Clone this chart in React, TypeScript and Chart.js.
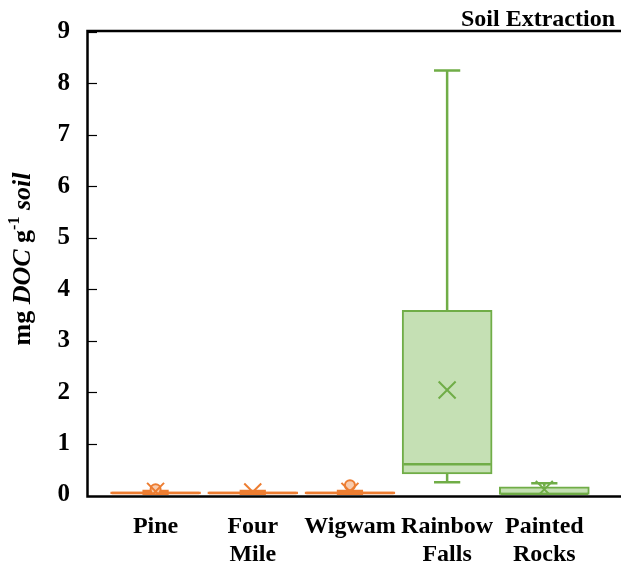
import React, { useEffect, useRef } from "react";
import { Chart, registerables } from "chart.js";

Chart.register(...registerables);

const categories: string[][] = [["Pine"], ["Four", "Mile"], ["Wigwam"], ["Rainbow", "Falls"], ["Painted", "Rocks"]];
const mins = [0.0, 0.0, 0.0, 0.25, 0.0];
const q1s = [0.02, 0.02, 0.02, 0.41, 0.01];
const medians = [0.04, 0.04, 0.04, 0.6, 0.02];
const q3s = [0.06, 0.06, 0.06, 3.59, 0.16];
const maxs = [0.08, 0.08, 0.08, 8.25, 0.23];
const means = [0.07, 0.06, 0.07, 2.04, 0.11];
const outliers: number[][] = [[0.11], [], [0.19], [], []];
const groupOf = [0, 0, 0, 1, 1];
const yTicks = [0, 1, 2, 3, 4, 5, 6, 7, 8, 9];

const lineColors = ["#ED7D31", "#70AD47"];
const fillColors = ["#F8CBAD", "#C5E0B4"];

const FONT = "'Liberation Serif', 'Times New Roman', serif";
const BOX_HALF = 0.45;
const CAP_HALF = 0.135;

function segmentsFor(group: number) {
  const pts: { x: number; y: number | null }[] = [];
  categories.forEach((_, i) => {
    if (groupOf[i] !== group) return;
    const add = (a: [number, number], b: [number, number]) => {
      pts.push({ x: a[0], y: a[1] }, { x: b[0], y: b[1] }, { x: b[0], y: null });
    };
    add([i, q3s[i]], [i, maxs[i]]);
    add([i, q1s[i]], [i, mins[i]]);
    add([i - CAP_HALF, maxs[i]], [i + CAP_HALF, maxs[i]]);
    add([i - CAP_HALF, mins[i]], [i + CAP_HALF, mins[i]]);
    add([i - BOX_HALF, medians[i]], [i + BOX_HALF, medians[i]]);
  });
  return pts;
}

const framePlugin = {
  id: "frame",
  afterDraw(chart: any) {
    const { ctx, chartArea: ca, scales } = chart;
    ctx.save();
    ctx.strokeStyle = "#000";
    ctx.lineWidth = 2.5;
    ctx.beginPath();
    ctx.moveTo(621, ca.top - 1);
    ctx.lineTo(ca.left - 1.5, ca.top - 1);
    ctx.lineTo(ca.left - 1.5, ca.bottom + 1.5);
    ctx.lineTo(621, ca.bottom + 1.5);
    ctx.stroke();
    ctx.lineWidth = 1.2;
    const ys = scales.y;
    yTicks.forEach((t) => {
      if (t === 0) return;
      const py = Math.round(ys.getPixelForValue(t)) + 0.5;
      ctx.beginPath();
      ctx.moveTo(ca.left - 1, py);
      ctx.lineTo(ca.left + 8, py);
      ctx.stroke();
    });
    // title
    ctx.fillStyle = "#000";
    ctx.font = `bold 24px ${FONT}`;
    ctx.textAlign = "right";
    ctx.textBaseline = "alphabetic";
    ctx.fillText("Soil Extraction", 615, 26);
    // y axis title
    const parts = [
      { t: "mg ", f: `bold 26px ${FONT}`, dy: 0 },
      { t: "DOC", f: `italic bold 26px ${FONT}`, dy: 0 },
      { t: " g", f: `bold 26px ${FONT}`, dy: 0 },
      { t: "-1", f: `bold 16px ${FONT}`, dy: -11 },
      { t: " soil", f: `italic bold 26px ${FONT}`, dy: 0 },
    ];
    let total = 0;
    parts.forEach((p) => {
      ctx.font = p.f;
      total += ctx.measureText(p.t).width;
    });
    const cy = 259;
    ctx.translate(30, cy);
    ctx.rotate(-Math.PI / 2);
    ctx.textAlign = "left";
    let x = -total / 2;
    parts.forEach((p) => {
      ctx.font = p.f;
      ctx.fillText(p.t, x, p.dy);
      x += ctx.measureText(p.t).width;
    });
    ctx.restore();
  },
};

export default function App() {
  const ref = useRef<HTMLCanvasElement | null>(null);
  useEffect(() => {
    if (!ref.current) return;
    const boxData = categories.map((_, i) => ({ x: i, y: [q1s[i], q3s[i]] }));
    const chart = new Chart(ref.current, {
      type: "bar",
      data: {
        datasets: [
          {
            type: "scatter",
            data: categories.map((_, i) => ({ x: i, y: means[i] })),
            pointStyle: "crossRot",
            pointRadius: 12,
            pointBorderWidth: 2,
            pointBorderColor: categories.map((_, i) => lineColors[groupOf[i]]),
            pointBackgroundColor: "transparent",
            order: 0,
          } as any,
          {
            type: "scatter",
            data: categories.flatMap((_, i) => outliers[i].map((v) => ({ x: i, y: v }))),
            pointStyle: "circle",
            pointRadius: 5,
            pointBorderWidth: 2,
            pointBorderColor: lineColors[0],
            pointBackgroundColor: fillColors[0],
            order: 1,
          } as any,
          ...[0, 1].map((g) => ({
            type: "scatter",
            data: segmentsFor(g),
            showLine: true,
            spanGaps: false,
            borderColor: lineColors[g],
            borderWidth: 2.5,
            pointRadius: 0,
            order: 2,
          })) as any[],
          {
            type: "bar",
            data: boxData,
            backgroundColor: categories.map((_, i) => fillColors[groupOf[i]]),
            borderColor: categories.map((_, i) => lineColors[groupOf[i]]),
            borderWidth: 2,
            borderSkipped: false,
            barThickness: 90,
            grouped: false,
            order: 5,
          } as any,
        ],
      },
      plugins: [framePlugin],
      options: {
        animation: false,
        responsive: false,
        layout: { padding: { top: 32, right: 0, bottom: 0, left: 0 } },
        plugins: { legend: { display: false }, tooltip: { enabled: false }, title: { display: false } },
        scales: {
          x: {
            type: "linear",
            offset: false,
            min: -0.685,
            max: 4.645,
            afterBuildTicks: (s: any) => {
              s.ticks = categories.map((_, i) => ({ value: i }));
            },
            afterFit: (s: any) => {
              s.height = 72;
              s.paddingRight = 0;
              s.paddingLeft = 0;
            },
            ticks: {
              callback: (v: any) => categories[Math.round(Number(v))],
              font: { family: FONT, size: 24, weight: "bold", lineHeight: 1.15 },
              color: "#000",
              padding: 18,
              maxRotation: 0,
              autoSkip: false,
            },
            grid: { display: false, drawTicks: false },
            border: { display: false },
          },
          y: {
            type: "linear",
            min: 0,
            max: 9,
            afterBuildTicks: (s: any) => {
              s.ticks = yTicks.map((v) => ({ value: v }));
            },
            afterFit: (s: any) => {
              s.width = 89;
              s.paddingTop = 0;
              s.paddingBottom = 0;
            },
            ticks: {
              font: { family: FONT, size: 25, weight: "bold" },
              color: "#000",
              padding: 19,
            },
            grid: { display: false, drawTicks: false },
            border: { display: false },
          },
        },
      },
    } as any);
    return () => chart.destroy();
  }, []);
  return (
    <div style={{ position: "fixed", left: 0, top: 0, width: 621, height: 567, background: "#fff" }}>
      <canvas ref={ref} width={621} height={567} style={{ display: "block" }} />
    </div>
  );
}
